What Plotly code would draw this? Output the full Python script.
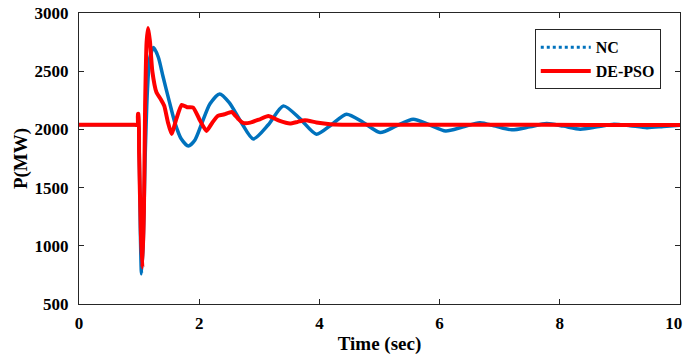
import plotly.graph_objects as go

# NC (no controller) response
nc_t = [0, 0.5, 0.95, 0.985, 1.0, 1.02, 1.04, 1.07, 1.10, 1.14, 1.18, 1.24, 1.32, 1.40, 1.50, 1.60, 1.70,
        1.82, 1.93, 2.04, 2.18, 2.34, 2.50, 2.70, 2.90, 3.15, 3.40, 3.68, 3.95, 4.20, 4.45,
        4.73, 5.01, 5.28, 5.56, 5.83, 6.10, 6.38, 6.67, 6.93, 7.20, 7.50, 7.78, 8.06, 8.34,
        8.62, 8.90, 9.17, 9.45, 9.72, 10.0]
nc_p = [2040, 2040, 2040, 2040, 1900, 1150, 760, 1050, 1750, 2350, 2620, 2703, 2620, 2450, 2245, 2050, 1920,
        1858, 1910, 2047, 2220, 2305, 2230, 2060, 1918, 2040, 2202, 2090, 1959, 2040, 2131,
        2060, 1973, 2030, 2088, 2040, 1987, 2020, 2058, 2028, 1996, 2022, 2050, 2028, 2002,
        2022, 2045, 2032, 2015, 2025, 2036]

# DE-PSO controlled response
de_t = [0, 0.5, 0.9, 0.975, 0.98, 0.99, 1.0, 1.03, 1.055, 1.08, 1.10, 1.125, 1.15, 1.18, 1.22, 1.29,
        1.36, 1.42, 1.48, 1.54, 1.62, 1.71, 1.80, 1.90, 2.00, 2.12, 2.22, 2.31, 2.42, 2.54,
        2.65, 2.73, 2.85, 3.00, 3.15, 3.33, 3.51, 3.64, 3.76, 3.95, 4.18, 4.6, 5.5, 7.0, 8.5, 10.0]
de_p = [2040, 2040, 2040, 2040, 2133, 2133, 1800, 1100, 813, 1300, 2200, 2750, 2872, 2760, 2500, 2316,
        2260, 2200, 2060, 1961, 2090, 2210, 2190, 2187, 2090, 1987, 2060, 2116, 2130, 2150,
        2090, 2056, 2058, 2085, 2116, 2075, 2050, 2065, 2079, 2060, 2045, 2040, 2040, 2040, 2038, 2038]

x_ticks = [0, 2, 4, 6, 8, 10]
y_ticks = [500, 1000, 1500, 2000, 2500, 3000]

BLUE = "#0072BD"
RED = "#FF0000"
FONT = "Liberation Serif"

fig = go.Figure()
fig.add_trace(go.Scatter(x=nc_t, y=nc_p, mode="lines", showlegend=False,
                         line=dict(color=BLUE, width=3.5, shape="spline", smoothing=0.7)))
fig.add_trace(go.Scatter(x=de_t, y=de_p, mode="lines", showlegend=False,
                         line=dict(color=RED, width=4, shape="spline", smoothing=0.5)))
# legend entries
fig.add_trace(go.Scatter(x=[None], y=[None], mode="lines", name="<b>NC</b>",
                         line=dict(color=BLUE, width=3, dash="dot")))
fig.add_trace(go.Scatter(x=[None], y=[None], mode="lines", name="<b>DE-PSO</b>",
                         line=dict(color=RED, width=4)))

axis_common = dict(showgrid=False, zeroline=False, showline=True, linecolor="#262626",
                   linewidth=1, mirror="ticks", ticks="inside", ticklen=5, tickcolor="#262626",
                   tickfont=dict(family=FONT, size=17, color="black"), automargin=False,
                   ticklabeloverflow="allow")

x_text = [f"<b>{v}</b>" for v in x_ticks]
x_text[-1] = x_text[-1] + "&nbsp;&nbsp;&nbsp;"
fig.update_xaxes(range=[0, 10], tickvals=x_ticks, ticktext=x_text,
                 title=dict(text="<b>Time (sec)</b>", font=dict(family=FONT, size=19, color="black"),
                            standoff=4),
                 ticklabelstandoff=4, **axis_common)
fig.update_yaxes(range=[500, 3000], tickvals=y_ticks, ticktext=[f"<b>{v}</b>" for v in y_ticks],
                 title=dict(text="<b>P(MW)</b>", font=dict(family=FONT, size=19, color="black"),
                            standoff=1),
                 ticklabelstandoff=6, **axis_common)

fig.update_layout(
    width=685, height=357,
    margin=dict(l=79, r=5, t=13, b=53),
    paper_bgcolor="white", plot_bgcolor="white",
    legend=dict(x=0.968, y=0.944, xanchor="right", yanchor="top",
                bgcolor="white", bordercolor="#262626", borderwidth=1,
                font=dict(family=FONT, size=16, color="black"),
                tracegroupgap=0, itemwidth=50),
)

fig.write_html("out.html", config={"displayModeBar": False},
               post_script="document.body.style.margin='0';")
